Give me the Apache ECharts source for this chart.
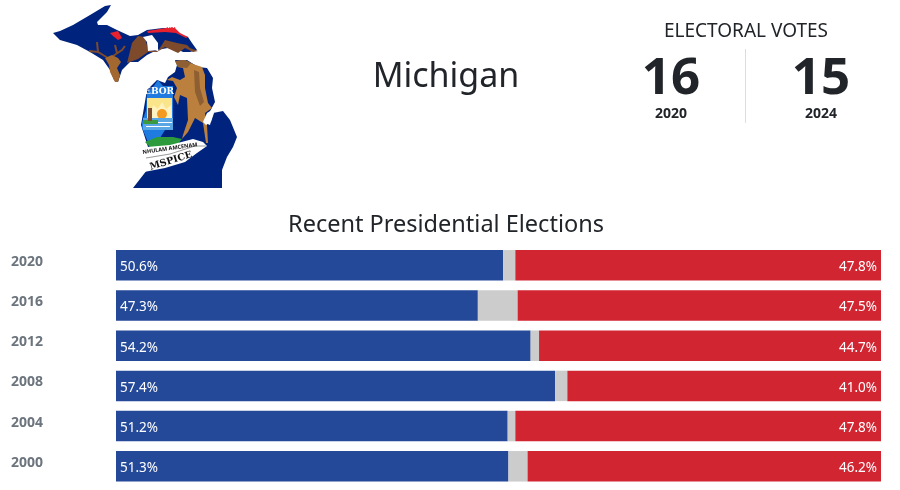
<!DOCTYPE html>
<html>
<head>
<meta charset="utf-8">
<title>Michigan</title>
<script src="https://cdn.jsdelivr.net/npm/echarts@6/dist/echarts.min.js"></script>
<style>
  html, body { margin: 0; padding: 0; background: #ffffff; }
  #chart { width: 900px; height: 490px; }
</style>
</head>
<body>
<div id="chart"></div>
<script>
"use strict";

var years = ['2020', '2016', '2012', '2008', '2004', '2000'];
var demVotes = [50.6, 47.3, 54.2, 57.4, 51.2, 51.3];
var otherVotes = [1.6, 5.2, 1.1, 1.6, 1.0, 2.5];
var repVotes = [47.8, 47.5, 44.7, 41.0, 47.8, 46.2];

var evYears = ['2020', '2024'];
var evVotes = ['16', '15'];

// Michigan outline and flag artwork, page pixels
var upperPeninsula = [[53,33],[60,31],[73,25],[90,15],[105,6],[111,5],[107,12],[97,22],[98,25],[107,25],[117,30],[130,36],[138,35],[147,30],[163,28],[173,28],[182,35],[188,37],[192,43],[197,50],[190,52],[183,52],[173,47],[157,50],[147,55],[138,62],[130,62],[122,70],[118,82],[114,80],[110,70],[103,60],[90,52],[77,45],[60,40]];
var lowerPeninsula = [[175,60],[187,60],[198,67],[207,68],[213,78],[212,88],[215,102],[208,115],[203,122],[210,125],[213,113],[223,111],[230,120],[237,137],[233,147],[227,157],[222,170],[222,188],[133,188],[147,170],[148,147],[141,125],[147,90],[157,80],[165,83],[168,77],[175,72],[177,65]];
var moose = [[175,61],[185,60],[193,64],[202,67],[205,75],[205,88],[208,103],[212,108],[205,113],[207,125],[208,143],[206,143],[203,123],[195,118],[188,132],[182,139],[183,135],[188,120],[187,98],[180,95],[178,105],[174,97],[177,88],[173,81],[167,80],[172,77],[180,80],[185,77],[183,68],[178,67]];
var mooseShade = [[194,70],[199,72],[200,88],[204,102],[200,106],[195,92]];
var mooseHead = [[175,61],[185,60],[191,63],[187,68],[178,67]];
var bayBlob = [[207,113],[212,110],[214,113],[211,122],[206,125],[203,122]];
var shield = [[147,92],[153,87],[158,80],[163,86],[173,86],[173,122],[165,130],[160,138],[148,142],[142,128],[142,122],[146,110]];
var sunRays = [[150,118],[153,105],[158,109],[162,102],[166,109],[171,105],[172,118]];
var hill = [[145,142],[157,137],[173,137],[182,139],[177,145],[163,147],[150,147]];
var ribbon = [[147,147],[170,145],[193,139],[203,142],[207,146],[197,153],[185,162],[165,168],[144,172],[147,162]];
var ribbonFold = [[146,158],[170,154],[195,146],[206,146]];
var eagle = [[127,63],[132,43],[138,36],[145,37],[148,50],[158,51],[165,40],[177,43],[187,45],[190,48],[198,51],[193,52],[185,48],[178,53],[165,47],[157,52],[148,52],[138,59]];
var eagleHead = [[143,37],[152,35],[158,43],[158,50],[148,51],[147,42]];
var redLeft = [[110,33],[118,31],[122,38],[118,40],[113,36]];
var redTop = [[147,31],[166,28],[175,28],[180,33],[188,37],[186,38],[176,33],[165,32],[148,33]];
var elk = [[105,58],[112,55],[118,58],[121,62],[119,65],[117,68],[120,75],[118,82],[115,82],[110,72],[109,65]];
var antlerA = [[108,58],[98,52],[89,51]];
var antlerB = [[98,52],[97,42]];
var antlerC = [[113,56],[122,50],[125,46]];
var antlerD = [[117,53],[115,45]];

function poly(points, fill) {
  return { type: 'polygon', silent: true, shape: { points: points }, style: { fill: fill } };
}

function stroke(points, color, width) {
  return { type: 'polyline', silent: true, shape: { points: points }, style: { stroke: color, lineWidth: width, fill: null } };
}

function box(x, y, w, h, fill) {
  return { type: 'rect', silent: true, shape: { x: x, y: y, width: w, height: h }, style: { fill: fill } };
}

function label(x, y, text, size, weight, color, family) {
  return {
    type: 'text', silent: true, x: x, y: y,
    style: {
      text: text, fontSize: size, fontWeight: weight, fill: color,
      fontFamily: family || 'Noto Sans', align: 'center', verticalAlign: 'middle'
    }
  };
}

function slanted(x, y, text, size, weight, angle, family) {
  var t = label(x, y, text, size, weight, '#111111', family);
  t.rotation = angle * Math.PI / 180;
  return t;
}

var mapParts = [
  poly(upperPeninsula, '#00247d'),
  poly(lowerPeninsula, '#00247d'),
  poly(redLeft, '#e8212e'),
  poly(redTop, '#e8212e'),
  label(171, 29, 'UN', 6, 'bold', '#e8212e'),
  poly(eagle, '#7d4a2c'),
  poly(eagleHead, '#ffffff'),
  stroke(antlerA, '#7d4a2c', 2),
  stroke(antlerB, '#7d4a2c', 2),
  stroke(antlerC, '#7d4a2c', 2),
  stroke(antlerD, '#7d4a2c', 2),
  poly(elk, '#a3682f'),
  poly(shield, '#1f7be0'),
  box(147, 98, 25, 20, '#fbe58a'),
  poly(sunRays, '#fdf2c0'),
  { type: 'circle', silent: true, shape: { cx: 162, cy: 114, r: 5 }, style: { fill: '#f39a1f' } },
  box(143, 118, 30, 12, '#5aa7e6'),
  box(146, 122, 26, 1, '#ffffff'),
  box(146, 126, 24, 1, '#ffffff'),
  box(143, 120, 15, 4, '#3a9a3f'),
  box(148, 108, 4, 13, '#7d4a2c'),
  label(159, 92, 'EBOR', 9, 'bold', '#ffffff', 'DejaVu Serif'),
  poly(hill, '#2d9a3c'),
  poly(moose, '#bb7f3e'),
  poly(mooseShade, '#8e5f33'),
  poly(mooseHead, '#8e5f33'),
  poly(bayBlob, '#ffffff'),
  poly(ribbon, '#ffffff'),
  stroke(ribbonFold, '#9a9a9a', 1),
  slanted(170, 148.5, 'NHULAM AMCENAM', 5.5, 'bold', 8),
  slanted(171, 161, 'MSPICE', 9.5, 'bold', 17, 'DejaVu Serif')
];

var headerParts = [
  label(446, 77, 'Michigan', 34, 'normal', '#212529'),
  label(746, 32, 'ELECTORAL VOTES', 19, 'normal', '#212529'),
  label(671, 79, evVotes[0], 51, 'bold', '#212529'),
  label(821, 79, evVotes[1], 51, 'bold', '#212529'),
  label(671, 114, evYears[0], 14, 'bold', '#212529'),
  label(821, 114, evYears[1], 14, 'bold', '#212529'),
  { type: 'line', silent: true, shape: { x1: 745.5, y1: 49, x2: 745.5, y2: 123 }, style: { stroke: '#dddddd', lineWidth: 1 } },
  label(446, 225, 'Recent Presidential Elections', 23.5, 'normal', '#212529')
];

var chart = echarts.init(document.getElementById('chart'), null, { renderer: 'canvas' });

var option = {
  backgroundColor: '#ffffff',
  animation: false,
  textStyle: { fontFamily: 'Noto Sans' },
  graphic: { elements: mapParts.concat(headerParts) },
  grid: { left: 116, right: 19, top: 245.2, height: 241.2 },
  xAxis: { type: 'value', min: 0, max: 100, show: false },
  yAxis: {
    type: 'category',
    data: years,
    inverse: true,
    axisLine: { show: false },
    axisTick: { show: false },
    axisLabel: {
      align: 'left',
      margin: 105,
      fontSize: 14,
      fontWeight: 'bold',
      color: '#6c757d',
      verticalAlign: 'bottom',
      lineHeight: 7
    }
  },
  series: [
    {
      name: 'Democratic',
      type: 'bar',
      stack: 'vote',
      barWidth: 30.5,
      data: demVotes,
      itemStyle: { color: '#244999' },
      label: {
        show: true, position: 'insideLeft', distance: 4, offset: [0, 2], color: '#ffffff', fontSize: 13.5,
        formatter: function (p) { return p.value.toFixed(1) + '%'; }
      }
    },
    {
      name: 'Other',
      type: 'bar',
      stack: 'vote',
      barWidth: 30.5,
      data: otherVotes,
      itemStyle: { color: '#cccccc' }
    },
    {
      name: 'Republican',
      type: 'bar',
      stack: 'vote',
      barWidth: 30.5,
      data: repVotes,
      itemStyle: { color: '#d22532' },
      label: {
        show: true, position: 'insideRight', distance: 4, offset: [0, 2], color: '#ffffff', fontSize: 13.5,
        formatter: function (p) { return p.value.toFixed(1) + '%'; }
      }
    }
  ]
};

chart.setOption(option);
</script>
</body>
</html>
